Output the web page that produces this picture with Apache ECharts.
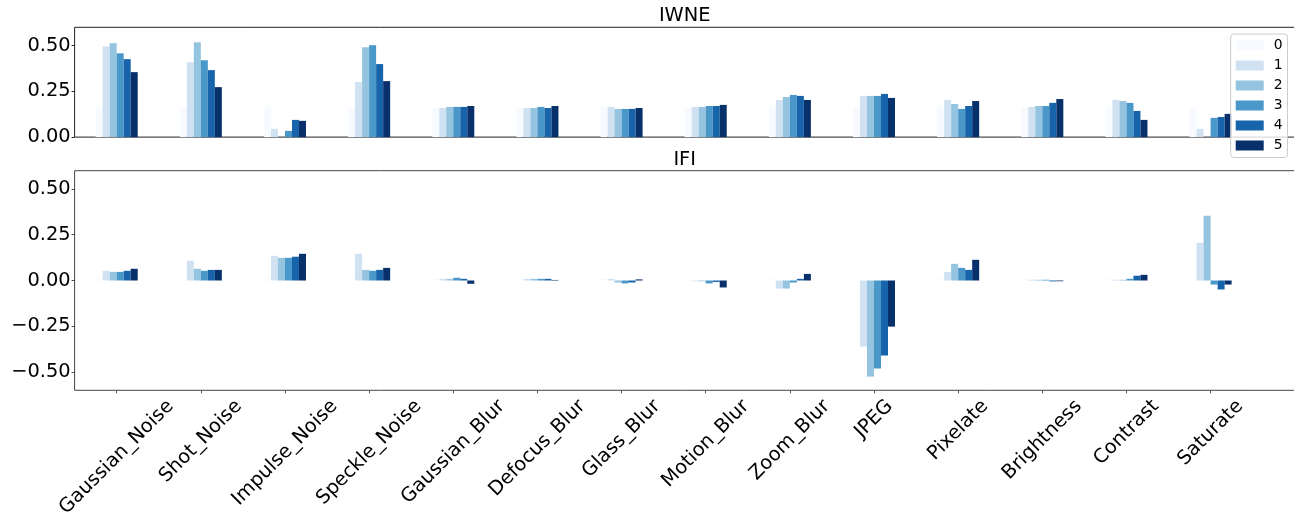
<!DOCTYPE html>
<html><head><meta charset="utf-8">
<script src="https://cdn.jsdelivr.net/npm/echarts@6/dist/echarts.min.js"></script>
<style>html,body{margin:0;padding:0;background:#fff}#c{width:1294px;height:512px}</style>
</head><body><div id="c"></div>
<script>
const categories = ['Gaussian_Noise','Shot_Noise','Impulse_Noise','Speckle_Noise','Gaussian_Blur','Defocus_Blur','Glass_Blur','Motion_Blur','Zoom_Blur','JPEG','Pixelate','Brightness','Contrast','Saturate'];
const levels = ['0','1','2','3','4','5'];

// IWNE panel, one array per severity level
const iwne0 = [0.165,0.165,0.165,0.165,0.165,0.165,0.165,0.165,0.165,0.165,0.165,0.165,0.165,0.165];
const iwne1 = [0.496,0.409,0.045,0.301,0.159,0.159,0.165,0.165,0.203,0.225,0.203,0.165,0.203,0.045];
const iwne2 = [0.513,0.518,0.000,0.491,0.165,0.159,0.154,0.165,0.219,0.225,0.181,0.170,0.197,0.000];
const iwne3 = [0.458,0.420,0.034,0.502,0.165,0.165,0.154,0.170,0.230,0.225,0.154,0.170,0.187,0.105];
const iwne4 = [0.426,0.366,0.094,0.399,0.165,0.159,0.154,0.170,0.225,0.236,0.170,0.187,0.143,0.110];
const iwne5 = [0.355,0.273,0.089,0.306,0.170,0.170,0.159,0.176,0.203,0.214,0.197,0.208,0.094,0.127];

// IFI panel
const ifi0 = [0.009,0.009,0.009,0.009,0.009,0.009,0.009,0.009,0.009,0.009,0.009,0.009,0.009,0.009];
const ifi1 = [0.053,0.108,0.135,0.146,0.009,0.009,0.009,-0.004,-0.044,-0.361,0.047,0.004,0.004,0.206];
const ifi2 = [0.047,0.064,0.124,0.058,0.009,0.009,-0.011,-0.004,-0.044,-0.525,0.091,0.004,0.004,0.354];
const ifi3 = [0.047,0.053,0.124,0.053,0.015,0.009,-0.016,-0.016,-0.011,-0.481,0.069,0.004,0.009,-0.022];
const ifi4 = [0.053,0.058,0.130,0.058,0.009,0.009,-0.011,-0.008,0.009,-0.410,0.058,-0.005,0.026,-0.049];
const ifi5 = [0.064,0.058,0.146,0.069,-0.018,0.003,0.006,-0.038,0.036,-0.252,0.113,-0.004,0.031,-0.022];

const yTicksTop = [0, 0.25, 0.5];
const yTicksBottom = [-0.5, -0.25, 0, 0.25, 0.5];
const colors = ['#f7fbff','#d0e1f2','#94c4df','#4a98c9','#1764ab','#08306b'];

const FONT = 'DejaVu Sans';
const FS = 19.4;
const iwne = [iwne0, iwne1, iwne2, iwne3, iwne4, iwne5];
const ifi = [ifi0, ifi1, ifi2, ifi3, ifi4, ifi5];

const xData = categories.concat(['']); // spare half-slot on the right (axes is clipped)
const fmt = v => v.toFixed(2).replace('-', '\u2212');

const series = [];
levels.forEach((name, i) => {
  series.push({ name, type: 'bar', xAxisIndex: 0, yAxisIndex: 0, data: iwne[i],
    itemStyle: { color: colors[i] }, barGap: '0%', barCategoryGap: '50%' });
});
levels.forEach((name, i) => {
  series.push({ name, type: 'bar', xAxisIndex: 1, yAxisIndex: 1, data: ifi[i],
    itemStyle: { color: colors[i] }, barGap: '0%', barCategoryGap: '50%' });
});

const yAxisCommon = (ticks, min, max, gi, col) => ({
  gridIndex: gi, type: 'value', min, max,
  axisLine: { show: false }, splitLine: { show: false },
  axisTick: { show: true, length: 3, customValues: ticks, lineStyle: { color: col } },
  axisLabel: { customValues: ticks, formatter: fmt, fontSize: FS, fontFamily: FONT, color: '#000', margin: 4 }
});

const option = {
  animation: false,
  backgroundColor: '#fff',
  title: [
    { text: 'IWNE', left: 684.7, top: 6.5, textAlign: 'center', padding: 0,
      textStyle: { fontSize: FS, fontWeight: 'normal', fontFamily: FONT, color: '#000' } },
    { text: 'IFI', left: 684.7, top: 150.5, textAlign: 'center', padding: 0,
      textStyle: { fontSize: FS, fontWeight: 'normal', fontFamily: FONT, color: '#000' } }
  ],
  legend: {
    data: levels, orient: 'vertical', left: 1230.7, top: 34,
    itemWidth: 28, itemHeight: 10, itemGap: 6, icon: 'rect',
    padding: [4.5, 5, 5, 5],
    backgroundColor: 'rgba(255,255,255,0.8)', borderColor: '#cccccc', borderWidth: 1, borderRadius: 3,
    textStyle: { fontSize: 13.9, fontFamily: FONT, color: '#000', lineHeight: 14, padding: [0, 0, 0, 5] }
  },
  grid: [
    { left: 74.6, top: 27.3, width: 1262.2, height: 109.8, show: true, borderColor: '#222', borderWidth: 1, outerBoundsMode: 'none' },
    { left: 74.6, top: 170.7, width: 1262.2, height: 219.6, show: true, borderColor: '#444', borderWidth: 1, outerBoundsMode: 'none' }
  ],
  xAxis: [
    { gridIndex: 0, type: 'category', data: xData,
      axisLine: { show: false, onZero: false }, axisTick: { show: false }, axisLabel: { show: false } },
    { gridIndex: 1, type: 'category', data: xData,
      axisLine: { show: false, onZero: false },
      axisTick: { show: true, alignWithLabel: true, interval: 0, length: 3, lineStyle: { color: '#555' } },
      axisLabel: { show: false } }
  ],
  yAxis: [
    yAxisCommon(yTicksTop, 0, 0.6, 0, '#222'),
    yAxisCommon(yTicksBottom, -0.6, 0.6, 1, '#444')
  ],
  series
};

const chart = echarts.init(document.getElementById('c'), null, { renderer: 'canvas' });
chart.setOption(option);

// Category labels, rotated 45deg and centred under each tick (matplotlib style),
// positioned through the axes' own pixel conversion.
const ctx = document.createElement('canvas').getContext('2d');
const labelFont = FS + 'px "DejaVu Sans"';
ctx.font = labelFont;
const axisBottom = chart.convertToPixel({ yAxisIndex: 1 }, -0.6);
const labelEls = categories.map(c => {
  const x = chart.convertToPixel({ xAxisIndex: 1 }, c);
  const L = ctx.measureText(c).width;
  return {
    type: 'text', x: x, y: axisBottom + 13 + 0.3535 * L, rotation: Math.PI / 4,
    style: { text: c, font: labelFont, fill: '#000', align: 'center', verticalAlign: 'middle' }
  };
});
chart.setOption({ graphic: labelEls });
</script>
</body></html>
